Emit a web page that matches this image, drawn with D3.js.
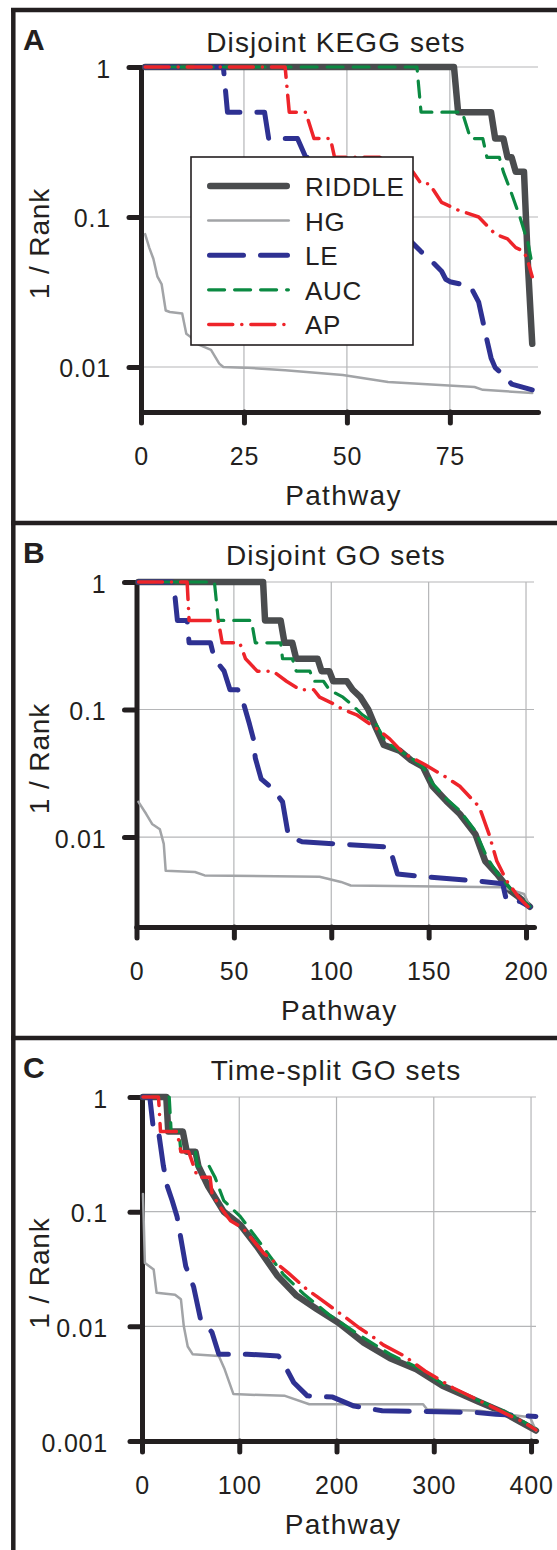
<!DOCTYPE html>
<html>
<head>
<meta charset="utf-8">
<script src="https://cdn.jsdelivr.net/npm/d3@7"></script>
<style>
  body { margin: 0; background: #fff; }
  svg text { font-family: "Liberation Sans", Arial, Helvetica, sans-serif; fill: #231f20; }
</style>
</head>
<body>
<svg id="fig" width="557" height="1550"></svg>
<script>
// methods shown in the legend, in drawing order
var methods = ['RIDDLE', 'HG', 'LE', 'AUC', 'AP'];
var panelLetters = ['A', 'B', 'C'];
var panelTitles = ['Disjoint KEGG sets', 'Disjoint GO sets', 'Time-split GO sets'];

var keggXTicks = [0, 25, 50, 75];
var goXTicks = [0, 50, 100, 150, 200];
var tsXTicks = [0, 100, 200, 300, 400];
var keggYTicks = [1, 0.1, 0.01];
var goYTicks = [1, 0.1, 0.01];
var tsYTicks = [1, 0.1, 0.01, 0.001];
var yTickText = { 1: '1', 0.1: '0.1', 0.01: '0.01', 0.001: '0.001' };

// series: [pathway, rank] vertices, plotted as 1 / rank
var keggRiddle = [[1,1],[76,1],[77,2],[85,2],[86,3],[88,3],[89,4],[90,4],[91,5],[93,5],[94,22],[95,70]];
var keggHG = [[1,13],[2,16],[3,19],[4,25],[5,28],[6,42],[7,43],[10,44],[11,60],[12,63],[14,71],[17,77],[19,95],[20,100],[25,101],[35,105],[49,113],[60,126],[81,136],[83,142],[95,149]];
var keggLE = [[1,1],[20,1],[21,2],[30,2],[31,3],[38,3],[40,4],[43,4],[45,5],[50,6],[55,8],[60,10],[64,13],[66,15],[68,17],[70,19],[73,23],[74,26],[75,27],[80,29],[82,37],[84,66],[85,87],[86,101],[88,113],[90,130],[95,142]];
var keggAUC = [[1,1],[67,1],[68,2],[78,2],[80,3],[83,3],[84,4],[87,4],[88,5],[90,7],[92,10],[94,15],[95,21]];
var keggAP = [[1,1],[35,1],[36,2],[40,2],[42,3],[46,3],[47,4],[58,4],[62,5],[66,5],[68,6],[70,6],[73,8],[77,9],[82,10],[86,13],[89,14],[91,16],[93,17],[94,20],[95,25]];

var goRiddle = [[1,1],[65,1],[66,2],[74,2],[76,3],[80,3],[82,4],[93,4],[95,5],[99,5],[101,6],[108,6],[111,7],[115,8],[119,10],[123,14],[127,19],[135,21],[141,25],[147,28],[152,40],[159,52],[166,66],[174,95],[179,154],[185,194],[192,265],[196,294],[202,352]];
var goHG = [[1,53],[5,66],[8,79],[12,87],[14,113],[15,184],[30,188],[35,200],[94,205],[105,225],[110,240],[188,248],[199,280],[202,352]];
var goLE = [[1,1],[19,1],[21,2],[26,2],[27,3],[38,3],[40,4],[45,5],[48,7],[52,7],[55,9],[58,13],[60,17],[61,24],[64,35],[70,42],[75,53],[78,98],[85,109],[130,120],[132,154],[134,195],[148,205],[173,220],[188,232],[190,316],[197,320],[202,352]];
var goAUC = [[1,1],[40,1],[42,2],[59,2],[61,3],[74,3],[75,4],[80,4],[82,5],[89,5],[91,6],[96,6],[99,7],[106,8],[110,9],[116,11],[123,13],[128,18],[135,21],[141,24],[147,28],[152,38],[159,50],[166,62],[174,90],[180,145],[185,190],[192,255],[196,290],[202,350]];
var goAP = [[1,1],[26,1],[27,2],[42,2],[44,3],[53,3],[56,4],[62,5],[70,5],[77,6],[84,7],[91,7],[94,8],[101,9],[106,10],[113,11],[123,14],[130,17],[137,22],[148,27],[159,34],[166,40],[176,58],[181,95],[185,154],[190,220],[196,294],[201,352]];

var tsRiddle = [[1,1],[25,1],[27,2],[42,2],[46,3],[55,3],[58,4],[68,6],[84,10],[101,13],[118,20],[139,36],[159,54],[180,71],[202,93],[228,139],[255,190],[282,237],[309,330],[345,450],[371,560],[389,680],[405,810]];
var tsHG = [[1,7],[3,28],[12,32],[15,51],[34,53],[40,58],[43,100],[47,150],[52,175],[79,181],[85,237],[94,390],[147,404],[172,478],[289,478],[293,529],[347,545],[399,620],[405,810]];
var tsLE = [[1,1],[8,1],[12,2],[17,2],[22,4],[26,6],[31,8],[36,11],[45,30],[53,45],[60,85],[72,113],[79,175],[108,175],[140,181],[145,206],[156,309],[170,404],[196,414],[218,496],[247,545],[342,563],[364,585],[405,610]];
var tsAUC = [[1,1],[28,1],[30,2],[38,2],[40,3],[55,3],[57,4],[69,4],[75,5],[84,8],[101,11],[122,19],[145,35],[166,52],[193,80],[224,120],[255,175],[283,228],[310,320],[345,440],[372,550],[390,660],[405,790]];
var tsAP = [[1,1],[17,1],[19,2],[36,2],[40,3],[48,3],[57,5],[70,5],[72,7],[80,9],[91,12],[104,14],[125,23],[150,34],[170,48],[180,55],[207,81],[224,104],[240,128],[248,145],[269,180],[291,245],[320,345],[357,490],[378,600],[393,690],[405,800]];

var lineStyle = {
  RIDDLE: { color: '#4a4c4e', width: 6.5, dash: null },
  HG: { color: '#a2a4a7', width: 2.5, dash: null },
  LE: { color: '#2e3192', width: 5, dash: '34,17' },
  AUC: { color: '#0b8a42', width: 3.2, dash: '16,10' },
  AP: { color: '#ee242a', width: 3.5, dash: '24,9,0.1,9' }
};

var panels = [
  { top: 67, bottom: 412, left: 141, right: 538, xMax: 96.4, yMin: 0.00501, frameTop: 10,
    xTicks: keggXTicks, yTicks: keggYTicks, xGrid: [25, 50, 75], yGrid: [1, 0.1, 0.01],
    series: [keggRiddle, keggHG, keggLE, keggAUC, keggAP], legend: true },
  { top: 582, bottom: 927, left: 136.5, right: 534, xMax: 204.1, yMin: 0.00197, frameTop: 523,
    xTicks: goXTicks, yTicks: goYTicks, xGrid: [50, 100, 150, 200], yGrid: [1, 0.1, 0.01],
    series: [goRiddle, goHG, goLE, goAUC, goAP], legend: false },
  { top: 1097, bottom: 1441, left: 142, right: 536, xMax: 405.1, yMin: 0.001, frameTop: 1038,
    xTicks: tsXTicks, yTicks: tsYTicks, xGrid: [100, 200, 300, 400], yGrid: [1, 0.1, 0.01],
    series: [tsRiddle, tsHG, tsLE, tsAUC, tsAP], legend: false }
];

var svg = d3.select('#fig');
var ink = '#231f20';

// outer frame: left rule and a top rule for each panel
svg.append('line')
  .attr('x1', 13.3).attr('x2', 13.3).attr('y1', 8).attr('y2', 1550)
  .style('stroke', ink).style('stroke-width', 4.5);

function styleLine(sel, st) {
  sel.style('fill', 'none')
    .style('stroke', st.color)
    .style('stroke-width', st.width)
    .style('stroke-linecap', 'round')
    .style('stroke-linejoin', 'round');
  if (st.dash) {
    sel.style('stroke-dasharray', st.dash);
  }
  return sel;
}

panels.forEach(function(p, k) {
  var g = svg.append('g');
  var x = d3.scaleLinear().domain([0, p.xMax]).range([p.left, p.right]);
  var y = d3.scaleLog().domain([p.yMin, 1]).range([p.bottom, p.top]);

  g.append('line')
    .attr('x1', 11).attr('x2', 557).attr('y1', p.frameTop).attr('y2', p.frameTop)
    .style('stroke', ink).style('stroke-width', 4.5);

  g.append('text')
    .attr('x', 23).attr('y', p.frameTop + 40)
    .style('font-size', '30px').style('font-weight', 'bold')
    .text(panelLetters[k]);

  g.append('text')
    .attr('x', 336).attr('y', p.frameTop + 42)
    .attr('text-anchor', 'middle')
    .style('font-size', '28px').style('letter-spacing', '1.1px')
    .text(panelTitles[k]);

  // gridlines
  g.selectAll('line.hgrid').data(p.yGrid).enter().append('line')
    .attr('class', 'hgrid')
    .attr('x1', p.left).attr('x2', p.right)
    .attr('y1', function(d) { return y(d); }).attr('y2', function(d) { return y(d); })
    .style('stroke', '#b5b6b8').style('stroke-width', 1.2);
  g.selectAll('line.vgrid').data(p.xGrid).enter().append('line')
    .attr('class', 'vgrid')
    .attr('x1', function(d) { return x(d); }).attr('x2', function(d) { return x(d); })
    .attr('y1', p.top).attr('y2', p.bottom)
    .style('stroke', '#b5b6b8').style('stroke-width', 1.2);

  // axes
  var yAxis = d3.axisLeft(y).tickValues(p.yTicks).tickSize(12).tickSizeOuter(0)
    .tickPadding(k === 2 ? 22 : 18)
    .tickFormat(function(d) { return yTickText[d]; });
  var xAxis = d3.axisBottom(x).tickValues(p.xTicks).tickSize(11).tickSizeOuter(0)
    .tickPadding(24);

  var ya = g.append('g').attr('transform', 'translate(' + p.left + ',0)').call(yAxis);
  var xa = g.append('g').attr('transform', 'translate(0,' + p.bottom + ')').call(xAxis);

  [ya, xa].forEach(function(a) {
    a.select('.domain').style('stroke', ink).style('stroke-width', 5)
      .style('stroke-linecap', 'round');
    a.selectAll('.tick line').style('stroke', ink).style('stroke-width', 5)
      .style('stroke-linecap', 'round');
    a.selectAll('.tick text').style('font-size', '25px').style('fill', ink)
      .style('letter-spacing', '0.8px')
      .style('font-family', '"Liberation Sans", Arial, sans-serif');
  });
  ya.selectAll('.tick text').attr('dy', '0.4em');

  g.append('text')
    .attr('x', (p.left + p.right) / 2 + 4).attr('y', p.bottom + 93)
    .attr('text-anchor', 'middle')
    .style('font-size', '28px').style('letter-spacing', '1.3px')
    .text('Pathway');

  g.append('text')
    .attr('transform', 'translate(49,' + ((p.top + p.bottom) / 2 + 4) + ') rotate(-90)')
    .attr('text-anchor', 'middle')
    .style('font-size', '28px').style('letter-spacing', '0.9px')
    .text('1 / Rank');

  // curves
  var line = d3.line()
    .x(function(d) { return x(d[0]); })
    .y(function(d) { return y(1 / d[1]); });

  p.series.forEach(function(data, i) {
    styleLine(g.append('path').datum(data).attr('d', line), lineStyle[methods[i]]);
  });

  if (p.legend) {
    var lg = g.append('g');
    lg.append('rect')
      .attr('x', 191).attr('y', 157).attr('width', 222).attr('height', 188)
      .style('fill', '#fff').style('stroke', ink).style('stroke-width', 1.6);
    methods.forEach(function(m, i) {
      var cy = 186 + i * 34.6;
      var st = lineStyle[m];
      styleLine(lg.append('line')
        .attr('x1', 207 + st.width / 2).attr('x2', 290 - st.width / 2)
        .attr('y1', cy).attr('y2', cy), st);
      lg.append('text')
        .attr('x', 305).attr('y', cy + 10)
        .style('font-size', '26px').style('letter-spacing', '0.7px')
        .text(m);
    });
  }
});
</script>
</body>
</html>
